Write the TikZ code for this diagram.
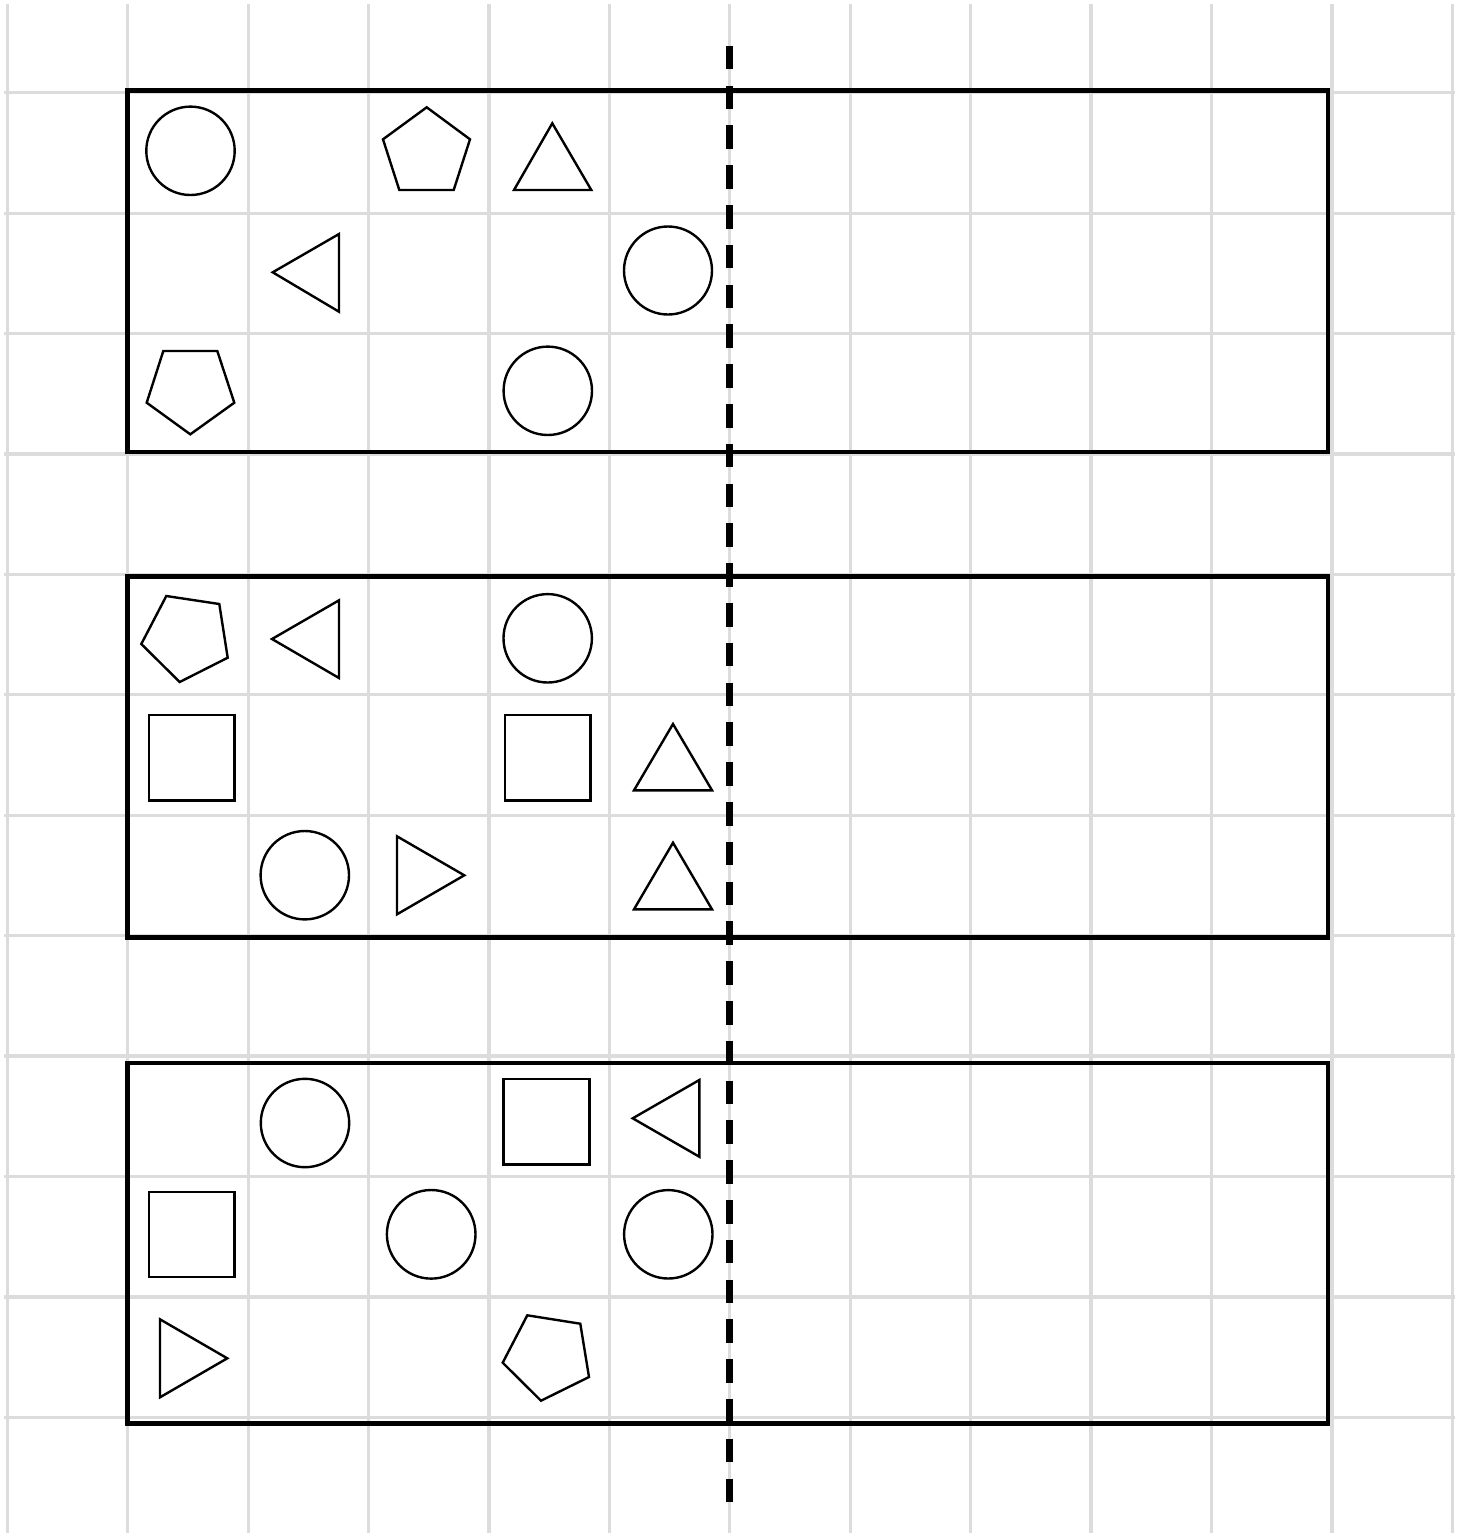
\documentclass[tikz,border=0pt]{standalone}
\definecolor{gridgray}{RGB}{220,220,220}
\begin{document}
\begin{tikzpicture}[x=0.5pt,y=-0.5pt,
  gridline/.style={draw=gridgray,line width=1.6pt},
  boxframe/.style={draw=black,line width=2.2pt},
  shp/.style={draw=black,line width=1.2pt,line join=miter},
  cutline/.style={draw=black,line width=3.4pt,dash pattern=on 11.8pt off 8.1pt}]
\useasboundingbox (0,0) rectangle (1465,1533);
\fill[white] (0,0) rectangle (1465,1533);
% grid
\foreach \k in {0,...,12}{
  \pgfmathsetmacro{\gx}{7.3+120.42*\k}
  \draw[gridline] (\gx,4) -- (\gx,1533);
}
\foreach \k in {0,...,11}{
  \pgfmathsetmacro{\gy}{92.7+120.42*\k}
  \draw[gridline] (4,\gy) -- (1455,\gy);
}
% boxes
\draw[boxframe] (127.5,90.3) rectangle (1328,451.8);
\draw[boxframe] (127.5,576.3) rectangle (1328,937.5);
\draw[boxframe] (127.5,1062.7) rectangle (1328,1423.3);
% dashed fold line
\coordinate (ctop) at (729.3,45.7);
\coordinate (cbot) at (729.3,1502.7);
\draw[cutline] (ctop) -- (cbot);
% box 1 shapes
\draw[shp] (190.5,150.8) circle[radius=44.2];
\draw[shp] (426.7,107.3) -- (470,139.3) -- (453.7,190) -- (399.3,190) -- (383,139.3) -- cycle;
\draw[shp] (552.3,123.3) -- (591.3,190) -- (514,190) -- cycle;
\draw[shp] (272.7,272.3) -- (339,234) -- (339,311.7) -- cycle;
\draw[shp] (668,270.5) circle[radius=44];
\draw[shp] (163.3,351) -- (217.3,351) -- (234.3,402.7) -- (190.3,434.3) -- (146.7,402.7) -- cycle;
\draw[shp] (547.8,390.8) circle[radius=44.2];
% box 2 shapes
\draw[shp] (166.3,596) -- (219.3,604) -- (227.7,657.7) -- (179.7,682) -- (141.3,644) -- cycle;
\draw[shp] (272,639) -- (339,600.3) -- (339,678) -- cycle;
\draw[shp] (547.7,638.3) circle[radius=44.2];
\draw[shp] (148.7,714.7) rectangle (234.3,800.3);
\draw[shp] (504.7,714.7) rectangle (590.3,800.3);
\draw[shp] (673,724) -- (712,790.3) -- (634,790.3) -- cycle;
\draw[shp] (304.8,875.2) circle[radius=44.2];
\draw[shp] (397,836.3) -- (464.3,875.3) -- (397,914.3) -- cycle;
\draw[shp] (673,842.7) -- (712,909.3) -- (634,909.3) -- cycle;
% box 3 shapes
\draw[shp] (305,1123) circle[radius=44.2];
\draw[shp] (503.3,1079) rectangle (589.3,1164.3);
\draw[shp] (632.7,1118.3) -- (699.3,1080) -- (699.3,1156.7) -- cycle;
\draw[shp] (148.7,1191.7) rectangle (234.3,1277);
\draw[shp] (431.2,1234.3) circle[radius=44.3];
\draw[shp] (668.3,1234.3) circle[radius=44.2];
\draw[shp] (160,1319.3) -- (227.3,1358.3) -- (160,1397.3) -- cycle;
\draw[shp] (527.3,1315.3) -- (580.3,1323.7) -- (589,1377) -- (541,1400.7) -- (502.7,1362.7) -- cycle;
\end{tikzpicture}
\end{document}
